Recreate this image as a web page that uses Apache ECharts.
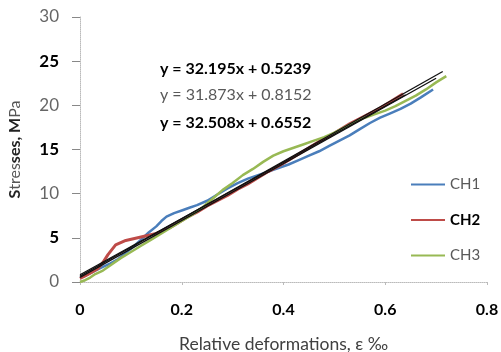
<!DOCTYPE html>
<html>
<head>
<meta charset="utf-8">
<script src="https://cdn.jsdelivr.net/npm/echarts@6/dist/echarts.min.js"></script>
<style>
  html, body { margin: 0; padding: 0; background: #fff; }
  #chart { width: 501px; height: 352px; }
</style>
</head>
<body>
<div id="chart"></div>
<script>
// x: relative deformation (‰), y: stress (MPa)
const ch1 = [[0,0.5],[0.01,0.7],[0.02,1.0],[0.03,1.3],[0.045,1.7],[0.06,2.1],[0.075,2.6],[0.09,3.3],[0.105,4.0],[0.12,4.8],[0.135,5.6],[0.15,6.3],[0.16,6.9],[0.17,7.4],[0.185,7.8],[0.2,8.1],[0.215,8.4],[0.23,8.7],[0.25,9.2],[0.27,9.9],[0.29,10.6],[0.31,11.2],[0.33,11.7],[0.35,12.1],[0.37,12.5],[0.39,12.9],[0.41,13.3],[0.43,13.8],[0.45,14.3],[0.47,14.8],[0.49,15.4],[0.51,16.0],[0.53,16.6],[0.55,17.3],[0.57,18.0],[0.59,18.6],[0.61,19.1],[0.63,19.6],[0.65,20.2],[0.67,20.9],[0.694,21.8]]
const ch2 = [[0,0.4],[0.01,0.7],[0.02,1.0],[0.035,1.5],[0.045,2.2],[0.055,3.1],[0.07,4.2],[0.09,4.7],[0.12,5.1],[0.15,5.5],[0.175,6.1],[0.19,6.6],[0.21,7.3],[0.23,7.9],[0.25,8.6],[0.27,9.2],[0.29,9.8],[0.31,10.5],[0.33,11.1],[0.35,11.8],[0.37,12.5],[0.39,13.1],[0.41,13.8],[0.43,14.5],[0.45,15.2],[0.47,15.9],[0.49,16.5],[0.51,17.2],[0.53,17.9],[0.55,18.5],[0.57,19.1],[0.59,19.7],[0.61,20.4],[0.635,21.3]]
const ch3 = [[0,0],[0.01,0.2],[0.02,0.5],[0.03,0.9],[0.045,1.3],[0.06,1.9],[0.08,2.7],[0.1,3.4],[0.12,4.1],[0.14,4.8],[0.16,5.5],[0.18,6.2],[0.2,6.9],[0.22,7.6],[0.24,8.4],[0.26,9.4],[0.28,10.4],[0.3,11.2],[0.32,12.1],[0.34,12.8],[0.36,13.6],[0.38,14.3],[0.4,14.8],[0.42,15.2],[0.44,15.6],[0.46,16.0],[0.48,16.4],[0.5,16.9],[0.52,17.5],[0.54,18.1],[0.56,18.6],[0.58,19.0],[0.6,19.4],[0.62,19.9],[0.64,20.5],[0.66,21.1],[0.68,21.8],[0.70,22.6],[0.72,23.3]]

// linear trendlines (end points)
const trend1 = [[0,0.52],[0.70,23.06]]
const trend2 = [[0,0.82],[0.64,21.2]]
const trend3 = [[0,0.66],[0.713,23.83]]

const equations = ['y = 32.195x + 0.5239', 'y = 31.873x + 0.8152', 'y = 32.508x + 0.6552']
const seriesNames = ['CH1', 'CH2', 'CH3']
const xTicks = [0, 0.8, 0.2]
const yTicks = [0, 30, 5]

const font = 'Lato, "Open Sans", sans-serif'
const chart = echarts.init(document.getElementById('chart'))

function lineSeries(name, data, color, width) {
  return { name: name, type: 'line', data: data, symbol: 'none', z: 2,
    lineStyle: { color: color, width: width }, itemStyle: { color: color } }
}
function trendSeries(data) {
  return { type: 'line', data: data, symbol: 'none', z: 3, silent: true,
    lineStyle: { color: '#111', width: 1.3 } }
}

chart.setOption({
  animation: false,
  textStyle: { fontFamily: font },
  grid: { left: 80, right: 14, top: 17, bottom: 70, outerBoundsMode: 'none' },
  legend: {
    orient: 'vertical', left: 405, top: 172,
    itemWidth: 34, itemHeight: 14, itemGap: 20.5,
    itemStyle: { opacity: 0 },
    textStyle: { fontSize: 15, color: '#595959', fontFamily: font },
    data: [
      { name: seriesNames[0] },
      { name: seriesNames[1], textStyle: { fontWeight: 'bold', color: '#000' } },
      { name: seriesNames[2] }
    ]
  },
  xAxis: {
    type: 'value', min: xTicks[0], max: xTicks[1], interval: xTicks[2],
    name: 'Relative deformations, ε ‰', nameLocation: 'middle', nameGap: 53,
    nameTextStyle: { fontSize: 17.5, color: '#404040', fontFamily: font },
    axisLine: { lineStyle: { color: '#bbb', type: 'dotted' } },
    axisTick: { show: true, length: 3, lineStyle: { color: '#bbb' } },
    splitLine: { show: false },
    axisLabel: { fontSize: 16, fontWeight: 'bold', color: '#000', margin: 20, fontFamily: font }
  },
  yAxis: {
    type: 'value', min: yTicks[0], max: yTicks[1], interval: yTicks[2],
    name: '{b|S}{n|tres}{b|ses, M}{n|Pa}', nameLocation: 'middle', nameGap: 57,
    nameTextStyle: {
      rich: {
        b: { fontSize: 16, fontWeight: 'bold', color: '#222', fontFamily: font },
        n: { fontSize: 16, color: '#555', fontFamily: font }
      }
    },
    axisLine: { show: true, lineStyle: { color: '#bbb', type: 'dotted' } },
    axisTick: { show: true, length: 8, lineStyle: { color: '#888' } },
    splitLine: { show: false },
    axisLabel: {
      margin: 21,
      formatter: v => (v % 10 === 5 ? '{b|' + v + '}' : '{n|' + v + '}'),
      rich: {
        b: { fontSize: 17, fontWeight: 'bold', color: '#000', fontFamily: font },
        n: { fontSize: 17, color: '#666', fontFamily: font }
      }
    }
  },
  series: [
    lineSeries(seriesNames[0], ch1, '#4a7ebb', 2.5),
    lineSeries(seriesNames[1], ch2, '#be4b48', 3),
    lineSeries(seriesNames[2], ch3, '#98b954', 2.5),
    trendSeries(trend1),
    trendSeries(trend2),
    trendSeries(trend3)
  ],
  graphic: [
    { type: 'text', left: 160, top: 61, z: 10,
      style: { text: equations[0], fill: '#000', font: 'bold 16px ' + font } },
    { type: 'text', left: 160, top: 87, z: 10,
      style: { text: equations[1], fill: '#595959', font: '16px ' + font } },
    { type: 'text', left: 160, top: 115, z: 10,
      style: { text: equations[2], fill: '#000', font: 'bold 16px ' + font } }
  ]
})
</script>
</body>
</html>
